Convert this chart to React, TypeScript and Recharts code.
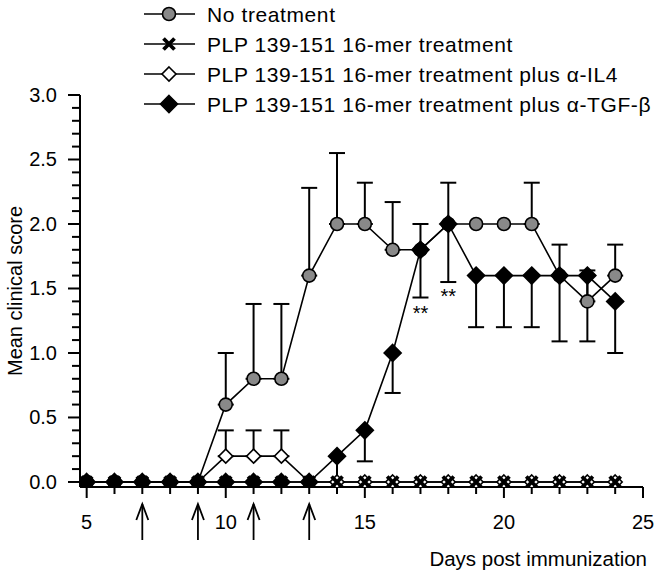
import React from 'react';
import { LineChart, Line, XAxis, YAxis, ErrorBar } from 'recharts';

const FONT = '"Liberation Sans", Arial, Helvetica, sans-serif';

// days post immunization
const days = [5, 6, 7, 8, 9, 10, 11, 12, 13, 14, 15, 16, 17, 18, 19, 20, 21, 22, 23, 24];

// mean clinical score per group
const noTreatment = [0, 0, 0, 0, 0, 0.6, 0.8, 0.8, 1.6, 2.0, 2.0, 1.8, 1.8, 2.0, 2.0, 2.0, 2.0, 1.6, 1.4, 1.6];
const noTreatmentSem = [0, 0, 0, 0, 0, 0.4, 0.58, 0.58, 0.68, 0.55, 0.32, 0.37, 0.2, 0.32, 0, 0, 0.32, 0.24, 0.24, 0.24];

const plp = [0, 0, 0, 0, 0, 0, 0, 0, 0, 0, 0, 0, 0, 0, 0, 0, 0, 0, 0, 0];

const plpIl4 = [0, 0, 0, 0, 0, 0.2, 0.2, 0.2, 0, 0, 0, 0, 0, 0, 0, 0, 0, 0, 0, 0];
const plpIl4Sem = [0, 0, 0, 0, 0, 0.2, 0.2, 0.2, 0, 0, 0, 0, 0, 0, 0, 0, 0, 0, 0, 0];

const plpTgf = [0, 0, 0, 0, 0, 0, 0, 0, 0, 0.2, 0.4, 1.0, 1.8, 2.0, 1.6, 1.6, 1.6, 1.6, 1.6, 1.4];
const plpTgfSem = [0, 0, 0, 0, 0, 0, 0, 0, 0, 0.2, 0.24, 0.31, 0.37, 0.45, 0.4, 0.4, 0.4, 0.51, 0.51, 0.4];

// "**" significance marks (placed just under the error caps)
const sigDays = [17, 18];
const sigLevel = [1.34, 1.47];

// arrows under the axis (treatment days)
const injectionDays = [7, 9, 11, 13];

const xTicks = [5, 6, 7, 8, 9, 10, 11, 12, 13, 14, 15, 16, 17, 18, 19, 20, 21, 22, 23, 24, 25];
const yTicks = Array.from({ length: 31 }, (_, i) => i / 10);

const legendItems = [
  { name: 'No treatment', mark: 'circle' },
  { name: 'PLP 139-151 16-mer treatment', mark: 'cross' },
  { name: 'PLP 139-151 16-mer treatment plus \u03b1-IL4', mark: 'open' },
  { name: 'PLP 139-151 16-mer treatment plus \u03b1-TGF-\u03b2', mark: 'filled' },
];

const data = days.map((day, i) => {
  const s = sigDays.indexOf(day);
  return {
    day,
    noTx: noTreatment[i],
    noTxErr: noTreatmentSem[i] ? [0, noTreatmentSem[i]] : null,
    plp: plp[i],
    il4: plpIl4[i],
    il4Err: plpIl4Sem[i] ? [0, plpIl4Sem[i]] : null,
    tgf: plpTgf[i],
    tgfErr: plpTgfSem[i] ? [plpTgfSem[i], 0] : null,
    sig: s >= 0 ? sigLevel[s] : null,
  };
});

function Marker({ kind, cx, cy }: { kind: string; cx: number; cy: number }) {
  if (kind === 'circle') {
    return <circle cx={cx} cy={cy} r={6.5} fill="#898989" stroke="#000" strokeWidth={1.6} />;
  }
  if (kind === 'cross') {
    const s = 5.5;
    return (
      <path
        d={`M${cx - s},${cy - s}L${cx + s},${cy + s}M${cx + s},${cy - s}L${cx - s},${cy + s}`}
        stroke="#000"
        strokeWidth={3.8}
        fill="none"
      />
    );
  }
  const s = kind === 'filled' ? 8.5 : 7;
  return (
    <path
      d={`M${cx},${cy - s}L${cx + s},${cy}L${cx},${cy + s}L${cx - s},${cy}Z`}
      fill={kind === 'filled' ? '#000' : '#fff'}
      stroke="#000"
      strokeWidth={1.6}
    />
  );
}

const dotOf = (kind: string) => (p: any) => {
  if (p.cy == null || p.cx == null) return <g key={`${kind}-${p.index}`} />;
  return (
    <g key={`${kind}-${p.index}`}>
      <Marker kind={kind} cx={p.cx} cy={p.cy} />
    </g>
  );
};

const sigDot = (p: any) => {
  if (p.cy == null || p.value == null) return <g key={`sig-${p.index}`} />;
  return (
    <text key={`sig-${p.index}`} x={p.cx} y={p.cy + 11} textAnchor="middle" fontSize={20} fontFamily={FONT}>
      **
    </text>
  );
};

function XTick({ x, y, payload }: any) {
  const v = payload.value;
  const major = v % 5 === 0;
  const arrow = injectionDays.includes(v);
  return (
    <g>
      <line x1={x} x2={x} y1={y} y2={y + (major ? 11 : 7)} stroke="#000" strokeWidth={2} />
      {major && (
        <text x={x} y={y + 42} textAnchor="middle" fontSize={20} fontFamily={FONT} fill="#000">
          {v}
        </text>
      )}
      {arrow && (
        <g stroke="#000" strokeWidth={1.8} fill="none">
          <line x1={x} x2={x} y1={y + 17} y2={y + 53} />
          <path d={`M${x - 6},${y + 33}L${x},${y + 17}L${x + 6},${y + 33}`} />
        </g>
      )}
    </g>
  );
}

function YTick({ x, y, payload }: any) {
  const v = payload.value;
  const major = Math.abs(v * 2 - Math.round(v * 2)) < 1e-6;
  return (
    <g>
      <line x1={x - (major ? 12 : 8)} x2={x} y1={y} y2={y} stroke="#000" strokeWidth={2} />
      {major && (
        <text x={x - 23} y={y + 7} textAnchor="end" fontSize={20} fontFamily={FONT} fill="#000">
          {v.toFixed(1)}
        </text>
      )}
    </g>
  );
}

function Legendish() {
  return (
    <svg width={661} height={120} style={{ position: 'absolute', left: 0, top: 0 }}>
      {legendItems.map((it, i) => {
        const y = 14 + i * 30;
        return (
          <g key={it.name}>
            <line x1={144} x2={195} y1={y} y2={y} stroke="#000" strokeWidth={1.6} />
            <Marker kind={it.mark} cx={169} cy={y} />
            <text x={207} y={y + 7.5} fontSize={21} fontFamily={FONT} fill="#000" letterSpacing={0.6}>
              {it.name}
            </text>
          </g>
        );
      })}
    </svg>
  );
}

export default function App() {
  return (
    <div style={{ position: 'absolute', left: 0, top: 0, width: 661, height: 575, background: '#fff' }}>
      <LineChart width={661} height={575} data={data} margin={{ top: 95, right: 18, left: 15, bottom: 0 }}>
        <XAxis
          dataKey="day"
          type="number"
          domain={[4.76, 25]}
          allowDataOverflow
          ticks={xTicks}
          interval={0}
          tick={<XTick />}
          tickLine={false}
          tickSize={0}
          tickMargin={0}
          height={88}
          axisLine={{ stroke: '#000', strokeWidth: 2 }}
          label={{
            content: ({ viewBox }: any) => (
              <text
                x={viewBox.x + viewBox.width + 4}
                y={viewBox.y + 79}
                textAnchor="end"
                fontSize={20.5}
                fontFamily={FONT}
                fill="#000"
              >
                Days post immunization
              </text>
            ),
          }}
        />
        <YAxis
          type="number"
          domain={[-0.039, 3]}
          allowDataOverflow
          ticks={yTicks}
          interval={0}
          tick={<YTick />}
          tickLine={false}
          tickSize={0}
          tickMargin={0}
          width={65}
          axisLine={{ stroke: '#000', strokeWidth: 2 }}
          label={{
            content: ({ viewBox }: any) => (
              <text
                x={15}
                y={viewBox.y + viewBox.height / 2}
                transform={`rotate(-90 15 ${viewBox.y + viewBox.height / 2})`}
                textAnchor="middle"
                dominantBaseline="central"
                fontSize={20}
                fontFamily={FONT}
                fill="#000"
              >
                Mean clinical score
              </text>
            ),
          }}
        />
        <Line
          dataKey="noTx"
          type="linear"
          stroke="#000"
          strokeWidth={1.6}
          dot={dotOf('circle')}
          activeDot={false}
          isAnimationActive={false}
        >
          <ErrorBar dataKey="noTxErr" direction="y" width={8} stroke="#000" strokeWidth={2} />
        </Line>
        <Line
          dataKey="il4"
          type="linear"
          stroke="#000"
          strokeWidth={1.6}
          dot={dotOf('open')}
          activeDot={false}
          isAnimationActive={false}
        >
          <ErrorBar dataKey="il4Err" direction="y" width={8} stroke="#000" strokeWidth={2} />
        </Line>
        <Line
          dataKey="plp"
          type="linear"
          stroke="#000"
          strokeWidth={1.6}
          dot={dotOf('cross')}
          activeDot={false}
          isAnimationActive={false}
        />
        <Line
          dataKey="tgf"
          type="linear"
          stroke="#000"
          strokeWidth={1.6}
          dot={dotOf('filled')}
          activeDot={false}
          isAnimationActive={false}
        >
          <ErrorBar dataKey="tgfErr" direction="y" width={8} stroke="#000" strokeWidth={2} />
        </Line>
        <Line
          dataKey="sig"
          type="linear"
          stroke="none"
          dot={sigDot}
          activeDot={false}
          legendType="none"
          isAnimationActive={false}
        />
      </LineChart>
      <Legendish />
    </div>
  );
}
